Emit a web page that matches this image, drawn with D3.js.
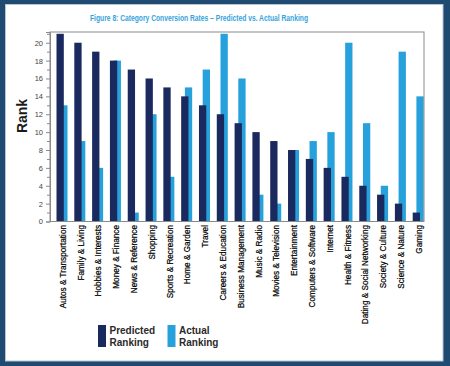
<!DOCTYPE html>
<html>
<head>
<meta charset="utf-8">
<script src="https://cdn.jsdelivr.net/npm/d3@7/dist/d3.min.js"></script>
<style>
body { margin: 0; background: #1f4a72; }
svg { display: block; }
</style>
</head>
<body>
<svg id="chart" width="450" height="366"></svg>
<script>
// chart data
var categories = ["Autos & Transportation", "Family & Living", "Hobbies & Interests",
    "Money & Finance", "News & Reference", "Shopping", "Sports & Recreation",
    "Home & Garden", "Travel", "Careers & Education", "Business Management",
    "Music & Radio", "Movies & Television", "Entertainment", "Computers & Software",
    "Internet", "Health & Fitness", "Dating & Social Networking", "Society & Culture",
    "Science & Nature", "Gaming"];
var predicted = [21, 20, 19, 18, 17, 16, 15, 14, 13, 12, 11, 10, 9, 8, 7, 6, 5, 4, 3, 2, 1];
var actual = [13, 9, 6, 18, 1, 12, 5, 15, 17, 21, 16, 3, 2, 8, 9, 10, 20, 11, 4, 19, 14];
var yTicks = [0, 2, 4, 6, 8, 10, 12, 14, 16, 18, 20];
var yMinorTicks = [1, 3, 5, 7, 9, 11, 13, 15, 17, 19, 21];
var seriesNames = [["Predicted", "Ranking"], ["Actual", "Ranking"]];
var title = "Figure 8: Category Conversion Rates \u2013 Predicted vs. Actual Ranking";

var dark = "#1b2a5e";
var light = "#27a1db";

var svg = d3.select("#chart");

// frame
svg.append("rect")
    .attr("width", 450)
    .attr("height", 366)
    .attr("fill", "#1f4a72");
svg.append("rect")
    .attr("x", 5.5)
    .attr("y", 4.5)
    .attr("width", 437.5)
    .attr("height", 356.5)
    .attr("fill", "#ffffff")
    .attr("stroke", "#b8c5d2")
    .attr("stroke-width", 1);

// plot area (window.top is taken, so prefix names)
var plotLeft = 50, plotRight = 424, plotTop = 32, plotBottom = 221.5;

var x = d3.scaleBand()
    .domain(categories)
    .range([plotLeft, plotRight]);
var bw = x.bandwidth();

var y = d3.scaleLinear()
    .domain([0, 21.2])
    .range([plotBottom, plotTop]);

var plot = svg.append("g");

plot.append("clipPath")
    .attr("id", "plot_clip")
    .append("rect")
    .attr("x", plotLeft)
    .attr("y", plotTop)
    .attr("width", plotRight - plotLeft)
    .attr("height", plotBottom - plotTop);

var bars = plot.append("g").attr("clip-path", "url(#plot_clip)");

// actual ranking behind, predicted on top
bars.selectAll("rect.actual")
    .data(actual)
    .enter()
    .append("rect")
    .attr("class", "actual")
    .attr("x", function(d, i) {
            return x(categories[i]) + bw * 0.573;
          })
    .attr("y", function(d) { return y(d); })
    .attr("width", bw * 0.41)
    .attr("height", function(d) { return y(0) - y(d); })
    .attr("fill", light);

bars.selectAll("rect.predicted")
    .data(predicted)
    .enter()
    .append("rect")
    .attr("class", "predicted")
    .attr("x", function(d, i) {
            return x(categories[i]) + bw * 0.365;
          })
    .attr("y", function(d) { return y(d); })
    .attr("width", bw * 0.41)
    .attr("height", function(d) { return y(0) - y(d); })
    .attr("fill", dark);

// plot border
plot.append("rect")
    .attr("x", plotLeft)
    .attr("y", plotTop)
    .attr("width", plotRight - plotLeft)
    .attr("height", plotBottom - plotTop)
    .attr("fill", "none")
    .attr("stroke", "#8a8a8a")
    .attr("stroke-width", 1);

// y axis
var yAxis = plot.append("g")
    .attr("transform", "translate(" + plotLeft + ",0)")
    .call(d3.axisLeft(y)
        .tickValues(yTicks)
        .tickSize(4)
        .tickPadding(3));
yAxis.select(".domain").attr("stroke", "#8a8a8a");
yAxis.selectAll(".tick line").attr("stroke", "#8a8a8a");
yAxis.selectAll(".tick text")
    .attr("font-family", "Liberation Sans, sans-serif")
    .attr("font-size", "7.5px")
    .attr("fill", "#444");

plot.append("g")
    .selectAll("line")
    .data(yMinorTicks)
    .enter()
    .append("line")
    .attr("x1", plotLeft - 3)
    .attr("x2", plotLeft)
    .attr("y1", function(d) { return y(d) + 0.5; })
    .attr("y2", function(d) { return y(d) + 0.5; })
    .attr("stroke", "#8a8a8a");

svg.append("text")
    .attr("transform", "translate(27,116) rotate(-90)")
    .attr("text-anchor", "middle")
    .attr("font-family", "Liberation Sans, sans-serif")
    .attr("font-weight", "bold")
    .attr("font-size", "14px")
    .attr("fill", "#1a1a1a")
    .text("Rank");

// category labels
svg.append("g")
    .selectAll("text")
    .data(categories)
    .enter()
    .append("text")
    .attr("transform", function(d) {
            return "translate(" + (x(d) + bw * 0.72) + ",225) rotate(-90)";
          })
    .attr("dy", ".35em")
    .attr("text-anchor", "end")
    .attr("font-family", "Liberation Sans, sans-serif")
    .attr("font-size", "8.2px")
    .attr("fill", "#000")
    .attr("stroke", "#000")
    .attr("stroke-width", 0.2)
    .text(function(d) { return d; });

// title
svg.append("text")
    .attr("x", 90)
    .attr("y", 20.5)
    .attr("textLength", 218)
    .attr("lengthAdjust", "spacingAndGlyphs")
    .attr("font-family", "Liberation Sans, sans-serif")
    .attr("font-weight", "bold")
    .attr("font-size", "8.2px")
    .attr("fill", "#36a3dc")
    .text(title);

// legend
var legend = svg.append("g")
    .selectAll("g")
    .data(seriesNames)
    .enter()
    .append("g")
    .attr("transform", function(d, i) {
            return "translate(" + (98 + i * 69.5) + ",325)";
          });

legend.append("rect")
    .attr("width", 8)
    .attr("height", 22)
    .attr("fill", function(d, i) { return i == 0 ? dark : light; });

legend.append("text")
    .attr("x", 11.5)
    .attr("y", 8.5)
    .attr("font-family", "Liberation Sans, sans-serif")
    .attr("font-weight", "bold")
    .attr("font-size", "10px")
    .attr("fill", "#2a2a2a")
    .text(function(d) { return d[0]; });

legend.append("text")
    .attr("x", 11.5)
    .attr("y", 20.8)
    .attr("font-family", "Liberation Sans, sans-serif")
    .attr("font-weight", "bold")
    .attr("font-size", "10px")
    .attr("fill", "#2a2a2a")
    .text(function(d) { return d[1]; });
</script>
</body>
</html>
